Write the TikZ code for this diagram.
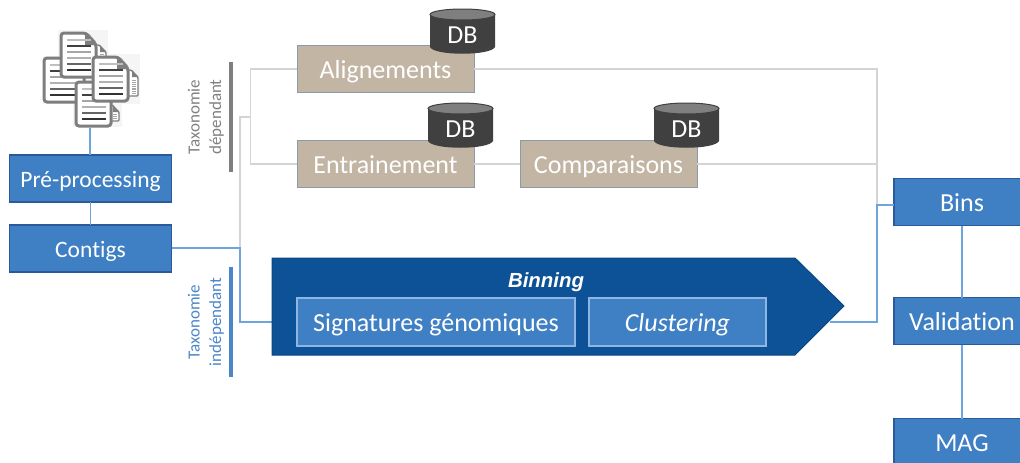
\documentclass[tikz,border=0pt]{standalone}
\usepackage{fontspec}
\setmainfont[Ligatures=NoCommon]{Carlito}
\newfontfamily\arialfont{Liberation Sans}
\definecolor{boxblue}{HTML}{3F80C4}
\definecolor{boxedge}{HTML}{2A5A9C}
\definecolor{tanfill}{HTML}{C2B5A4}
\definecolor{tanedge}{HTML}{8A9AA8}
\definecolor{arrowblue}{HTML}{0D5296}
\definecolor{linkblue}{HTML}{6FA5DE}
\definecolor{linkgrey}{HTML}{D4D4D4}
\definecolor{dbdark}{HTML}{404040}
\definecolor{dbtop}{HTML}{7F7F7F}
\definecolor{barblue}{HTML}{4A86C8}
\definecolor{bargrey}{HTML}{7F7F7F}
\definecolor{lightedge}{HTML}{8DB6E2}
\definecolor{docedge}{HTML}{7E7E7E}
\tikzset{
  x=1pt,y=-1pt,
  boxtext/.style={text height=18pt,text depth=0pt,inner sep=0pt,outer sep=0pt},
  bluebox/.style={boxtext,draw=boxedge,line width=1.2pt,fill=boxblue,text=white,font=\fontsize{23.5}{25}\selectfont,minimum width=162pt,minimum height=47pt},
  rightbox/.style={bluebox,font=\fontsize{26}{28}\selectfont,minimum width=136pt},
  tanbox/.style={boxtext,draw=tanedge,line width=1pt,fill=tanfill,text=white,font=\fontsize{26}{28}\selectfont,minimum width=177pt,minimum height=46.5pt},
  innerbox/.style={boxtext,draw=lightedge,line width=1.2pt,fill=boxblue,text=white,font=\fontsize{26}{28}\selectfont,minimum height=48pt},
  dblabel/.style={text=white,font=\fontsize{26}{28}\selectfont,inner sep=0pt},
  bluelink/.style={draw=linkblue,line width=1.4pt},
  greylink/.style={draw=linkgrey,line width=1.4pt},
  sidelabel/.style={rotate=90,align=center,font=\fontsize{17}{21.5}\selectfont,inner sep=0pt},
}
% page icon: top-left corner at (#1,#2), width #3, height #4
\newcommand{\docpage}[4]{%
  \begin{scope}[shift={(#1,#2)}]
    \filldraw[draw=docedge,fill=white,line width=3pt,rounded corners=3pt]
      (0,0) -- (#3-10,0) -- (#3,11) -- (#3,#4) -- (0,#4) -- cycle;
    \fill[docedge] (#3-11,0) -- (#3,12) -- (#3-11,12) -- cycle;
    \foreach \k/\c in {7/gray!50,13/black!75,19/gray!70,25/gray!60,31/black!60,37/black!80}
      \draw[line width=1.5pt,draw=\c] (6,\k) -- (#3-5,\k);
  \end{scope}}
% small page showing behind an icon
\newcommand{\backpage}[4]{%
  \begin{scope}[shift={(#1,#2)}]
    \filldraw[draw=docedge,fill=white,line width=1.4pt,rounded corners=1pt]
      (0,0) -- (#3-7,0) -- (#3,7) -- (#3,#4) -- (0,#4) -- cycle;
    \fill[docedge] (#3-6,0) -- (#3,7) -- (#3-6,7) -- cycle;
    \draw[line width=4pt,draw=gray!70,dash pattern=on 1.2pt off 1pt] (#3-4.5,#4-2) -- (#3-4.5,9);
  \end{scope}}
\newcommand{\dbcyl}[3]{%
  \fill[dbdark] (#1,#2+5.5) -- (#1,#2+38) .. controls (#1+4,#2+47) and (#1+61,#2+47) .. (#1+65,#2+38) -- (#1+65,#2+5.5) -- cycle;
  \filldraw[draw=dbdark,fill=dbtop,line width=1pt] (#1+32.5,#2+5.5) ellipse[x radius=32.5,y radius=5.5];
  \node[dblabel] (#3) at (#1+32.5,#2+26) {DB};}
\begin{document}
\begin{tikzpicture}
\useasboundingbox (0,0) rectangle (1020,463);
\clip (0,0) rectangle (1020,463);
\node[bluebox] (pre) at (90.5,178.5) {Pré-processing};
\node[bluebox] (contigs) at (90.5,248.5) {Contigs};
\node[tanbox] (align) at (385.5,69) {Alignements};
\node[tanbox] (entr) at (385.5,164) {Entrainement};
\node[tanbox] (comp) at (608.5,164) {Comparaisons};
\node[rightbox] (bins) at (962,202) {Bins};
\node[rightbox] (valid) at (962,321) {Validation};
\node[rightbox] (mag) at (962,442) {MAG};
\coordinate (docs) at (90,128);
\coordinate (bl) at (250.5,117);
\coordinate (gj) at (240,117);
\coordinate (cj) at (240,248);
\coordinate (rj) at (877,205);
\coordinate (cm) at (877,164);
\coordinate (arrowin) at (272,322);
\coordinate (arrowout) at (830,322);
% connectors
\draw[greylink] (align.west) -| (bl) |- (entr.west);
\draw[greylink] (bl) -- (gj) -- (cj);
\draw[greylink] (align.east) -| (rj);
\draw[greylink] (entr.east) -- (comp.west);
\draw[greylink] (comp.east) -- (cm);
\draw[bluelink] (docs) -- (docs |- pre.north);
\draw[bluelink] (pre) -- (contigs);
\draw[bluelink] (contigs.east |- cj) -- (cj) |- (arrowin);
\draw[bluelink] (arrowout) -| (rj) -- (bins.west |- rj);
\draw[bluelink] (bins) -- (valid);
\draw[bluelink] (valid) -- (mag);
% arrow
\coordinate (arrowtip) at (844,306);
\filldraw[draw=arrowblue!85!black,fill=arrowblue,line width=1pt]
  (272,258) -- (795,258) -- (arrowtip) -- (795,355) -- (272,355) -- cycle;
\node[font=\arialfont\bfseries\itshape\fontsize{20.4}{22}\selectfont,text=white,inner sep=0pt] (binning) at (546,282) {Binning};
\node[innerbox,minimum width=278pt] (sig) at (436,322) {Signatures génomiques};
\node[innerbox,minimum width=177pt,font=\itshape\fontsize{26}{28}\selectfont] (clust) at (677.5,322) {Clustering};
% DB
\dbcyl{430}{9}{db1}
\dbcyl{428}{103}{db2}
\dbcyl{654}{103}{db3}
% bars and side labels
\fill[bargrey] (228.5,62) rectangle (232.5,172);
\fill[barblue] (228.5,267) rectangle (232.5,377);
\node[sidelabel,text=gray] (dep) at (206,117) {Taxonomie\\dépendant};
\node[sidelabel,text=barblue] (indep) at (206,322) {Taxonomie\\indépendant};
% documents
\fill[gray!8] (43,56) rectangle (92,104);
\fill[gray!8] (58,30) rectangle (108,80);
\fill[gray!8] (93,54) rectangle (140,104);
\fill[gray!8] (73,80) rectangle (122,127);
\docpage{44}{58}{40}{44}
\backpage{108}{105}{11}{16}
\docpage{76}{82}{35}{44}
\backpage{92}{45}{14}{25}
\docpage{61}{33}{35}{44}
\backpage{126}{70}{12}{26}
\docpage{93}{57}{35}{44}
\end{tikzpicture}
\end{document}
